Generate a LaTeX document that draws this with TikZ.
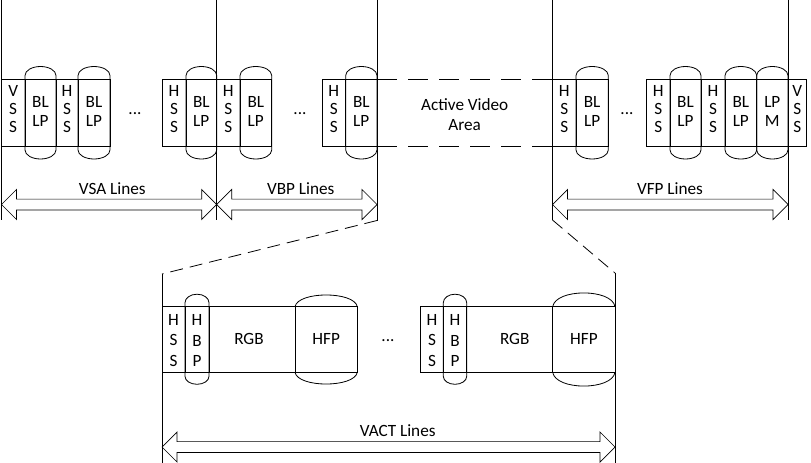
\documentclass[tikz,border=0pt]{standalone}
\usepackage{fontspec}
\setmainfont{Carlito}
\newcommand\pillshape[7]{%
 \pgfmathsetmacro\pxc{(#1+#2)/2}%
 \pgfmathsetmacro\prx{(#2-#1)/2}%
 \pgfmathsetmacro\pkx{0.5523*\prx}%
 \pgfmathsetmacro\pta{#3-#5}%
 \pgfmathsetmacro\ptt{\pta-#6}%
 \pgfmathsetmacro\ptk{\pta-0.5523*#6}%
 \pgfmathsetmacro\pba{#4+#5}%
 \pgfmathsetmacro\pbb{\pba+#7}%
 \pgfmathsetmacro\pbk{\pba+0.5523*#7}%
 \draw[ln] (#1,\pta) .. controls (#1,\ptk) and (\pxc-\pkx,\ptt) .. (\pxc,\ptt) .. controls (\pxc+\pkx,\ptt) and (#2,\ptk) .. (#2,\pta) -- (#2,\pba) .. controls (#2,\pbk) and (\pxc+\pkx,\pbb) .. (\pxc,\pbb) .. controls (\pxc-\pkx,\pbb) and (#1,\pbk) .. (#1,\pba) -- cycle;}
\newcommand\domeshape[5]{%
 \pgfmathsetmacro\dta{#3-1.36*#5}%
 \pgfmathsetmacro\dba{#4+1.36*#5}%
 \draw[ln] (#1,#3) .. controls (#1+3,\dta) and (#2-3,\dta) .. (#2,#3);
 \draw[ln] (#1,#4) .. controls (#1+3,\dba) and (#2-3,\dba) .. (#2,#4);}
\newcommand\dblarrow[3]{%
 \draw[arr] (#1,#3) -- (#1+15,#3-15) -- (#1+15,#3-5.4) -- (#2-15,#3-5.4) -- (#2-15,#3-15) -- (#2,#3) -- (#2-15,#3+15) -- (#2-15,#3+5.4) -- (#1+15,#3+5.4) -- (#1+15,#3+15) -- cycle;}
\begin{document}
\begin{tikzpicture}[x=1pt,y=-1pt,
  ln/.style={line width=0.8pt, draw=black},
  arr/.style={line width=0.7pt, draw=black},
  dsh/.style={line width=0.8pt, dash pattern=on 20pt off 11pt},
  dshd/.style={line width=0.8pt, dash pattern=on 13pt off 7pt},
  lbl/.style={font=\fontsize{17.2}{19.5}\selectfont, align=center, inner sep=0pt},
  stk/.style={font=\fontsize{17.2}{17.7}\selectfont, align=center, inner sep=0pt},
  stkb/.style={font=\fontsize{17.2}{20.5}\selectfont, align=center, inner sep=0pt}]
\useasboundingbox (0,0) rectangle (811,463);
% top row cells
\foreach \a/\b in {1.5/25,25/56,56/78,78/110,162/186,186/216.7,216.7/240,240/271.7,322/345.7,345.7/377,552.5/576,576/608.3,646.7/670,670/701,701/725,725/756.7,756.7/788,788/806.7}
  \draw[ln] (\a,79.5) rectangle (\b,146);
\foreach \a/\b in {25/56,78/110,186/216.7,240/271.7,345.7/377,576/608.3,670/701,725/756.7,756.7/788}
  \pillshape{\a}{\b}{79.5}{146}{4}{9}{9};
% bottom row cells
\foreach \a/\b in {162/185,185/209,209/295,295/357.3,420.7/443.3,443.3/466.7,466.7/552.7,552.7/615}
  \draw[ln] (\a,306.7) rectangle (\b,372.3);
\pillshape{185}{209}{306.7}{372.3}{4}{8.5}{8}
\pillshape{443.3}{466.7}{306.7}{372.3}{4}{8.5}{8}
\domeshape{295}{357.3}{306.7}{372.3}{11.5}
\domeshape{552.7}{615}{306.7}{372.3}{13.5}
% dashed active area
\coordinate (aTL) at (377,79.5); \coordinate (aTR) at (552.5,79.5);
\coordinate (aBL) at (377,146); \coordinate (aBR) at (552.5,146);
\draw[dsh] (aTL) -- (aTR);
\draw[dsh] (aBL) -- (aBR);
% vertical lines
\coordinate (v1t) at (1.5,0); \coordinate (v1b) at (1.5,220);
\coordinate (v2t) at (216.7,0); \coordinate (v2b) at (216.7,220);
\coordinate (v3t) at (377,0); \coordinate (v3b) at (377,220.5);
\coordinate (v4t) at (552.5,0); \coordinate (v4b) at (552.5,220);
\coordinate (v5t) at (788,0); \coordinate (v5b) at (788,220);
\coordinate (b1t) at (162,274); \coordinate (b1b) at (162,463);
\coordinate (b2t) at (615,273); \coordinate (b2b) at (615,463);
\draw[ln] (v1t) -- (v1b);
\draw[ln] (v2t) -- (v2b);
\draw[ln] (v3t) -- (v3b);
\draw[ln] (v4t) -- (v4b);
\draw[ln] (v5t) -- (v5b);
\draw[ln] (b1t) -- (b1b);
\draw[ln] (b2t) -- (b2b);
\draw[dshd] (v3b) -- (b1t);
\draw[dshd] (v4b) -- (b2t);
% arrows
\dblarrow{1.5}{216.7}{204.5}
\dblarrow{216.7}{377}{204.5}
\dblarrow{552.5}{788}{204.5}
\dblarrow{162}{615}{447}
% top row texts
\node[stk] (t1) at (13.2,109) {V\\S\\S};
\node[lbl] (t2) at (40.5,111.7) {BL\\LP};
\node[stk] (t3) at (67,109) {H\\S\\S};
\node[lbl] (t4) at (94,111.7) {BL\\LP};
\node[lbl] (d1) at (135,114) {...};
\node[stk] (t5) at (174,109) {H\\S\\S};
\node[lbl] (t6) at (201.3,111.7) {BL\\LP};
\node[stk] (t7) at (228.3,109) {H\\S\\S};
\node[lbl] (t8) at (255.8,111.7) {BL\\LP};
\node[lbl] (d2) at (300,114) {...};
\node[stk] (t9) at (333.8,109) {H\\S\\S};
\node[lbl] (t10) at (361.3,111.7) {BL\\LP};
\node[lbl] (act) at (464.7,114.5) {Active Video\\Area};
\node[stk] (t11) at (564.2,109) {H\\S\\S};
\node[lbl] (t12) at (592.1,111.7) {BL\\LP};
\node[lbl] (d3) at (627,114) {...};
\node[stk] (t13) at (658.3,109) {H\\S\\S};
\node[lbl] (t14) at (685.5,111.7) {BL\\LP};
\node[stk] (t15) at (713,109) {H\\S\\S};
\node[lbl] (t16) at (740.8,111.7) {BL\\LP};
\node[lbl] (t17) at (772.3,111.7) {LP\\M};
\node[stk] (t18) at (797.3,109) {V\\S\\S};
% arrow labels
\node[lbl] (lvsa) at (112.3,188.5) {VSA Lines};
\node[lbl] (lvbp) at (300.7,188.5) {VBP Lines};
\node[lbl] (lvfp) at (670,188.5) {VFP Lines};
\node[lbl] (lvact) at (397.7,431) {VACT Lines};
% bottom row texts
\node[stkb] (u1) at (173.5,340.5) {H\\S\\S};
\node[stkb] (u2) at (197,340.5) {H\\B\\P};
\node[lbl] (u3) at (249,339) {RGB};
\node[lbl] (u4) at (326.2,339) {HFP};
\node[lbl] (d4) at (388,341) {...};
\node[stkb] (u5) at (432,340.5) {H\\S\\S};
\node[stkb] (u6) at (455,340.5) {H\\B\\P};
\node[lbl] (u7) at (514.7,339) {RGB};
\node[lbl] (u8) at (583.9,339) {HFP};
\end{tikzpicture}
\end{document}
